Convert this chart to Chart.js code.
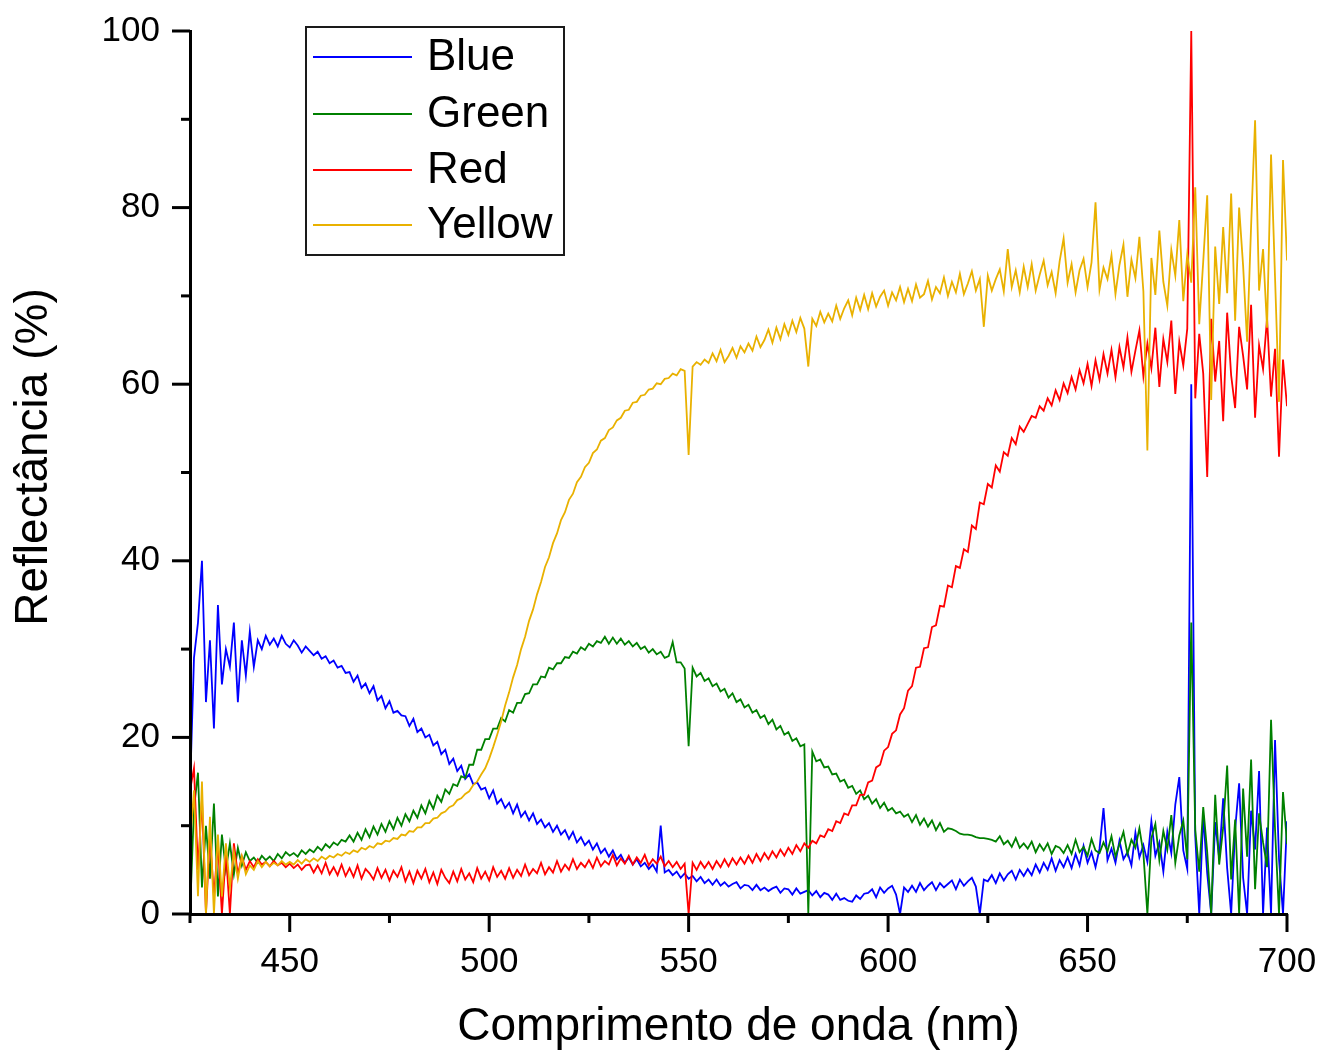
<!DOCTYPE html>
<html>
<head>
<meta charset="utf-8">
<script src="https://cdn.jsdelivr.net/npm/chart.js@4/dist/chart.umd.min.js"></script>
<style>
html,body{margin:0;padding:0;background:#fff;}
#wrap{width:1325px;height:1059px;position:relative;}
</style>
</head>
<body>
<div id="wrap"><canvas id="c" width="1325" height="1059"></canvas></div>
<script>
// Wavelength (nm)
const wavelengths = [
425,426,427,428,429,430,431,432,433,434,
435,436,437,438,439,440,441,442,443,444,
445,446,447,448,449,450,451,452,453,454,
455,456,457,458,459,460,461,462,463,464,
465,466,467,468,469,470,471,472,473,474,
475,476,477,478,479,480,481,482,483,484,
485,486,487,488,489,490,491,492,493,494,
495,496,497,498,499,500,501,502,503,504,
505,506,507,508,509,510,511,512,513,514,
515,516,517,518,519,520,521,522,523,524,
525,526,527,528,529,530,531,532,533,534,
535,536,537,538,539,540,541,542,543,544,
545,546,547,548,549,550,551,552,553,554,
555,556,557,558,559,560,561,562,563,564,
565,566,567,568,569,570,571,572,573,574,
575,576,577,578,579,580,581,582,583,584,
585,586,587,588,589,590,591,592,593,594,
595,596,597,598,599,600,601,602,603,604,
605,606,607,608,609,610,611,612,613,614,
615,616,617,618,619,620,621,622,623,624,
625,626,627,628,629,630,631,632,633,634,
635,636,637,638,639,640,641,642,643,644,
645,646,647,648,649,650,651,652,653,654,
655,656,657,658,659,660,661,662,663,664,
665,666,667,668,669,670,671,672,673,674,
675,676,677,678,679,680,681,682,683,684,
685,686,687,688,689,690,691,692,693,694,
695,696,697,698,699,700];

// Reflectance (%)
const blue = [
14,29,33,40,24,31,21,35,26,30,
28,33,24,31,27,32,28,31,30,31.5,
30.5,31.2,30.3,31.5,30.6,30.2,31,30.4,29.6,30.3,
29.8,29.3,29.7,28.9,29.2,28.4,28.7,27.9,28.1,27.3,
27.4,26.3,27.0,25.6,26.1,25.0,25.8,24.2,24.7,23.3,
24.1,22.8,23.0,22.5,22.4,21.3,22.1,20.6,21.0,20.0,
20.3,19.1,19.5,18.1,18.6,17.0,17.6,16.2,16.8,15.3,
15.8,14.7,14.9,14.1,14.3,13.1,14.0,12.5,13.0,12.0,
12.6,11.4,12.4,11.0,11.6,10.6,11.4,10.2,10.7,9.8,
10.3,9.3,10.0,9.0,9.5,8.5,9.3,8.1,8.7,7.8,
8.3,7.3,8.0,6.9,7.4,6.5,7.2,6.2,6.7,5.8,
6.4,5.6,6.2,5.4,5.8,5.1,5.6,4.8,10.0,4.7,
5.0,4.4,4.8,4.1,4.6,4.0,4.3,3.7,4.2,3.5,
3.9,3.3,3.9,3.2,3.6,3.1,3.4,3.6,2.9,3.3,
3.2,2.7,3.3,2.7,3.0,2.6,2.9,3.1,2.4,2.9,
2.8,2.2,2.9,2.3,2.5,2.7,2.1,2.6,1.9,2.4,
2.2,1.6,2.3,1.6,1.8,1.5,1.4,2.1,1.7,2.3,
2.4,2.8,1.9,3.0,2.4,2.9,3.2,2.2,0,3.0,
2.5,3.2,2.5,3.5,2.7,3.2,3.6,2.7,3.5,3.0,
3.4,3.8,2.8,3.9,3.2,3.7,4.1,3.1,0,3.9,
3.7,4.4,3.5,4.6,3.8,4.5,4.9,3.9,5.0,4.3,
5.1,4.4,5.6,4.7,5.8,5.0,6.3,4.9,6.1,5.3,
6.4,5.2,6.8,5.5,7.7,5.8,7.0,5.3,7.4,12.0,
6.1,7.4,5.8,8.3,6.2,7.0,5.5,9.2,6.4,7.8,
5.9,10.5,6.6,8.1,4.8,9.3,6.9,12.4,15.5,7.2,
5.1,60,8.8,0,11.2,4.6,0,10.4,6.3,13.1,
5.2,0,9.6,14.8,4.1,0,11.7,7.3,16.2,0,
9.8,0,19.7,6.2,0,10.5];

const green = [
0,12,16,3,10,4,12.5,2,9,5,
8,4.5,7.5,5.5,7,6,6.4,5.8,6.6,6.1,
6.5,6.0,6.8,6.3,7.0,6.6,6.9,6.5,7.2,6.8,
7.3,7.0,7.6,7.2,7.9,7.5,8.1,7.8,8.4,8.2,
8.9,8.2,9.2,8.4,9.6,8.7,9.9,9.0,10.2,9.3,
10.5,9.6,10.9,10.0,11.3,10.5,11.7,10.9,12.3,11.4,
12.8,11.9,13.4,12.7,14.1,13.6,14.7,14.5,15.6,15.4,
16.9,16.9,18.6,18.6,19.8,19.8,21.0,21.0,22.2,21.8,
23.1,22.8,23.9,23.9,24.9,25.0,26.0,26.0,26.9,26.8,
27.9,27.7,28.4,28.4,29.1,29.0,29.7,29.5,30.2,29.9,
30.6,30.3,30.9,30.7,31.4,30.6,31.3,30.6,31.2,30.5,
30.9,30.3,30.7,30.0,30.3,29.6,30.0,29.4,29.7,29.0,
29.2,30.8,28.5,28.5,27.8,19.0,27.9,26.9,27.3,26.4,
26.7,25.8,26.1,25.2,25.5,24.5,25.0,24.0,24.3,23.4,
23.7,22.8,23.1,22.2,22.5,21.5,22.0,20.9,21.3,20.3,
20.6,19.6,19.9,19.0,19.2,0,18.4,17.3,17.5,16.6,
16.7,15.8,15.9,15.0,15.2,14.3,14.5,13.6,14.0,13.0,
13.4,12.5,13.0,12.0,12.6,11.7,12.0,11.4,11.6,11.0,
11.3,10.4,11.2,10.1,10.8,9.9,10.6,9.5,10.3,9.3,
9.7,9.6,9.4,9.1,9.0,9.0,8.9,8.7,8.6,8.6,
8.5,8.4,8.2,8.8,7.9,8.3,7.6,8.6,7.5,8.0,
7.4,8.2,7.0,7.9,7.2,8.0,6.8,7.7,7.5,6.9,
7.8,6.8,8.4,7.0,7.6,6.6,8.5,7.2,6.9,8.1,
7.1,8.8,6.5,7.9,9.3,6.8,8.4,7.5,9.7,6.9,
0,8.6,10.2,6.1,9.4,7.3,11.2,5.8,8.9,10.6,
6.2,33,9.5,4.8,12.1,7.0,0,13.5,5.6,9.8,
16.8,3.9,10.7,0,14.2,6.5,17.5,2.8,11.4,8.1,
5.3,22.0,9.6,0,13.8,7.9];

const red = [
14,16.5,5,13,0,9,2,8,0,7,
0,8,4.5,6.5,5,6,5.3,6.2,5.6,5.9,
5.4,6.0,5.5,5.8,5.3,5.7,5.2,5.6,5.0,5.5,
5.6,4.7,5.5,4.6,5.8,4.5,5.3,4.4,5.6,4.3,
5.2,4.2,5.5,4.0,5.1,4.6,3.9,5.2,4.1,5.0,
3.8,4.9,4.2,5.3,3.7,4.8,3.5,4.9,4.0,5.1,
3.6,4.7,3.4,5.0,4.1,3.5,4.8,3.7,5.1,3.9,
4.6,3.6,5.2,4.0,4.8,3.8,5.3,4.2,4.9,4.0,
5.2,4.1,5.0,4.3,5.6,4.4,5.1,4.6,5.8,4.5,
5.3,4.7,6.0,4.8,5.6,5.0,6.2,5.1,5.8,5.3,
6.1,5.2,6.4,5.4,6.0,5.6,6.7,5.5,6.3,5.7,
6.6,5.6,6.4,5.8,6.7,5.5,6.2,5.7,6.5,5.4,
6.0,5.3,5.9,5.1,5.7,0,5.8,5.0,5.9,5.2,
5.9,5.1,6.0,5.3,6.2,5.4,6.3,5.6,6.4,5.7,
6.6,5.8,6.8,6.0,6.9,6.2,7.1,6.4,7.3,6.6,
7.5,6.8,7.8,7.1,8.0,7.5,8.3,8.0,8.9,8.7,
9.6,9.4,10.5,10.3,11.4,11.2,12.3,12.3,13.5,13.5,
14.9,15.1,16.6,16.9,18.5,18.9,20.4,20.8,22.6,23.3,
25.3,25.8,27.9,28.0,30.1,30.2,32.5,32.7,34.9,34.8,
37.2,37.0,39.4,39.2,41.3,41.0,44.0,43.6,46.6,46.4,
48.7,48.3,50.8,50.1,52.3,51.9,53.9,53.2,55.2,54.6,
55.5,56.4,56.2,57.5,57.0,58.4,57.6,59.3,58.2,60.1,
59.0,60.8,59.4,61.6,60.1,62.3,59.8,62.7,60.5,63.4,
61.2,63.9,60.8,64.2,61.9,65.3,61.4,63.8,66.1,60.9,
64.6,61.8,66.4,59.7,65.1,62.5,67.2,58.9,64.8,62.1,
66.3,100,58.4,65.7,61.2,49.5,67.4,60.3,64.9,55.8,
68.1,61.0,57.3,66.5,63.2,59.4,69.0,56.2,64.4,61.7,
67.5,58.6,64.0,51.8,62.8,57.5];

const yellow = [
8,14,2,15,0,11,0,9,2,8,
3,7,4,6.5,4.5,5.5,5.0,6.0,5.3,5.9,
5.4,5.8,5.5,6.0,5.6,5.9,5.6,6.1,5.7,6.2,
5.9,6.3,6.0,6.5,6.2,6.6,6.4,6.8,6.6,7.0,
6.8,7.2,7.0,7.5,7.3,7.7,7.5,8.0,7.9,8.3,
8.2,8.6,8.5,9.0,8.9,9.4,9.3,9.8,9.8,10.3,
10.3,10.8,10.9,11.4,11.6,12.1,12.3,12.9,13.1,13.6,
13.9,14.6,15.0,15.8,16.5,17.6,18.9,20.3,21.8,23.6,
25.1,26.8,28.2,30.0,31.4,33.2,34.5,36.2,37.6,39.3,
40.4,42.0,43.1,44.6,45.5,46.9,47.6,48.9,49.5,50.6,
51.1,52.2,52.6,53.6,53.9,54.8,55.1,55.9,56.2,57.0,
57.1,57.9,58.0,58.7,58.8,59.4,59.5,60.1,60.0,60.6,
60.7,61.2,61.0,61.7,61.5,52.0,62.0,62.5,62.2,62.8,
62.4,63.5,62.6,63.9,62.5,63.2,64.1,63.0,64.3,63.6,
64.6,63.8,65.4,64.2,65.0,66.2,64.7,66.4,65.1,66.8,
65.6,67.2,65.9,67.5,66.3,62.0,67.4,66.6,68.2,67.0,
68.0,67.1,68.9,67.4,68.6,69.5,67.8,69.8,68.4,70.1,
68.5,70.3,68.8,69.9,70.6,68.9,70.4,69.5,71.0,69.3,
70.8,69.4,71.3,69.8,70.2,71.7,69.6,71.0,70.3,72.1,
70.0,71.6,70.4,72.5,70.2,71.4,72.8,70.6,71.9,66.5,
72.3,70.6,71.9,73.0,70.5,75.3,71.0,72.9,70.4,73.3,
71.0,73.6,70.6,72.4,74.0,71.2,72.7,70.3,73.9,76.5,
71.5,73.6,70.4,72.9,74.2,71.0,73.8,80.6,70.7,73.2,
71.9,74.6,70.2,73.5,75.8,69.9,74.1,72.0,76.7,70.5,
52.5,74.3,70.1,77.4,71.6,68.9,75.2,72.3,78.6,69.4,
74.7,71.5,82.3,66.8,73.9,81.4,58.2,75.6,69.1,77.8,
70.3,81.6,67.2,80.0,73.4,64.8,77.9,89.9,70.6,75.3,
66.4,86.0,72.1,58.0,85.4,74.0];

const seriesNames = ['Blue', 'Green', 'Red', 'Yellow'];
const seriesColors = ['#0000ff', '#008000', '#ff0000', '#e9b100'];
const seriesValues = [blue, green, red, yellow];

const xMajorTicks = [450, 500, 550, 600, 650, 700];
const yMajorTicks = [0, 20, 40, 60, 80, 100];

const xTitle = 'Comprimento de onda (nm)';
const yTitle = 'Reflectância (%)';

const FONT = "'Liberation Sans', Arial, sans-serif";

const datasets = seriesValues.map((vals, k) => ({
  label: seriesNames[k],
  data: wavelengths.map((w, i) => ({ x: w, y: vals[i] })),
  borderColor: seriesColors[k],
  backgroundColor: seriesColors[k],
  borderWidth: 1.8,
  pointRadius: 0,
  tension: 0,
  fill: false,
  order: 4 - k
}));

const tickMarks = {
  id: 'tickMarks',
  afterDraw(chart) {
    const ctx = chart.ctx;
    const xs = chart.scales.x, ys = chart.scales.y;
    const area = chart.chartArea;
    ctx.save();
    ctx.strokeStyle = '#000';
    ctx.lineWidth = 3;
    ctx.lineCap = 'butt';
    xs.ticks.forEach(t => {
      const px = xs.getPixelForValue(t.value);
      const len = xMajorTicks.includes(t.value) ? 18 : 9;
      ctx.beginPath();
      ctx.moveTo(px, area.bottom);
      ctx.lineTo(px, area.bottom + len);
      ctx.stroke();
    });
    ys.ticks.forEach(t => {
      const py = ys.getPixelForValue(t.value);
      const len = yMajorTicks.includes(t.value) ? 18 : 9;
      ctx.beginPath();
      ctx.moveTo(area.left, py);
      ctx.lineTo(area.left - len, py);
      ctx.stroke();
    });
    // y-axis title
    ctx.save();
    ctx.translate(34, 457);
    ctx.rotate(-Math.PI / 2);
    ctx.font = '46px ' + FONT;
    ctx.fillStyle = '#000';
    ctx.textAlign = 'center';
    ctx.textBaseline = 'middle';
    ctx.fillText(yTitle, 0, 0);
    ctx.restore();
    ctx.restore();
  }
};

const boxLegend = {
  id: 'boxLegend',
  afterDraw(chart) {
    const ctx = chart.ctx;
    ctx.save();
    ctx.strokeStyle = '#1a1a1a';
    ctx.lineWidth = 2;
    ctx.strokeRect(306, 27, 258, 228);
    const rows = [57, 114, 170, 225];
    ctx.font = '44px ' + FONT;
    ctx.textBaseline = 'middle';
    ctx.textAlign = 'left';
    chart.data.datasets.forEach((ds, i) => {
      ctx.strokeStyle = ds.borderColor;
      ctx.lineWidth = 2;
      ctx.beginPath();
      ctx.moveTo(313, rows[i]);
      ctx.lineTo(412, rows[i]);
      ctx.stroke();
      ctx.fillStyle = '#000';
      ctx.fillText(ds.label, 427, rows[i] + 1);
    });
    ctx.restore();
  }
};

new Chart(document.getElementById('c'), {
  type: 'line',
  data: { datasets },
  options: {
    responsive: false,
    animation: false,
    devicePixelRatio: 1,
    events: [],
    layout: { padding: { top: 31, right: 38, bottom: 0, left: 0 } },
    plugins: { legend: { display: false }, tooltip: { enabled: false } },
    scales: {
      x: {
        type: 'linear',
        min: 425, max: 700,
        afterFit(s) { s.height = 145; s.paddingLeft = 0; s.paddingRight = 0; },
        grid: { display: false, drawTicks: false },
        border: { display: true, color: '#000', width: 3, z: 1 },
        ticks: {
          stepSize: 25,
          autoSkip: false,
          maxRotation: 0,
          padding: 27,
          color: '#000',
          font: { family: FONT, size: 35 },
          callback: (v) => xMajorTicks.includes(v) ? String(v) : ''
        },
        title: {
          display: true,
          text: xTitle,
          color: '#000',
          font: { family: FONT, size: 46, lineHeight: 1 },
          padding: { top: 0, bottom: 9 }
        }
      },
      y: {
        type: 'linear',
        min: 0, max: 100,
        afterFit(s) { s.width = 190; s.paddingTop = 0; s.paddingBottom = 0; },
        grid: { display: false, drawTicks: false },
        border: { display: true, color: '#000', width: 3, z: 1 },
        ticks: {
          stepSize: 10,
          autoSkip: false,
          padding: 30,
          color: '#000',
          font: { family: FONT, size: 35 },
          callback: (v) => yMajorTicks.includes(v) ? String(v) : ''
        },
        title: { display: false }
      }
    }
  },
  plugins: [tickMarks, boxLegend]
});
</script>
</body>
</html>
